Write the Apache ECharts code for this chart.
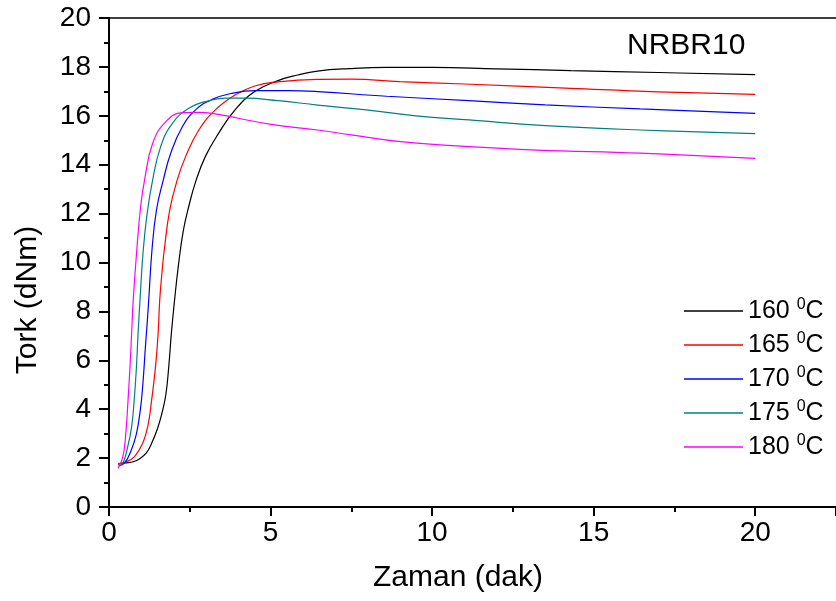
<!DOCTYPE html>
<html>
<head>
<meta charset="utf-8">
<script src="https://cdn.jsdelivr.net/npm/echarts@6/dist/echarts.min.js"></script>
<style>html,body{margin:0;padding:0;background:#fff;}#c{width:836px;height:601px;}</style>
</head>
<body>
<div id="c"></div>
<script>
const seriesNames = ['160', '165', '170', '175', '180'];
const xTicks = [0, 5, 10, 15, 20];
const yTicks = [0, 2, 4, 6, 8, 10, 12, 14, 16, 18, 20];

const x160 = [0.28, 0.5, 0.75, 0.95, 1.15, 1.3, 1.5, 1.65, 1.76, 1.85, 1.93, 2.03, 2.15, 2.3, 2.47, 2.68, 2.98, 3.39, 3.9, 4.51, 5.23, 5.84, 6.45, 7.43, 8.6, 10.0, 12.0, 14.3, 17.0, 20.0];
const y160 = [1.75, 1.8, 1.85, 1.97, 2.2, 2.55, 3.2, 3.9, 4.6, 5.74, 7.1, 8.47, 9.9, 11.3, 12.3, 13.3, 14.33, 15.28, 16.24, 16.99, 17.44, 17.67, 17.83, 17.93, 17.98, 17.98, 17.92, 17.85, 17.77, 17.68];

const x165 = [0.28, 0.53, 0.79, 1.04, 1.2, 1.32, 1.44, 1.52, 1.57, 1.64, 1.71, 1.88, 2.11, 2.37, 2.78, 3.29, 3.9, 4.51, 5.23, 6.45, 7.5, 9.0, 11.0, 14.3, 17.0, 20.0];
const y165 = [1.78, 1.85, 2.06, 2.6, 3.3, 4.38, 5.74, 7.1, 8.47, 9.6, 10.51, 12.15, 13.37, 14.33, 15.42, 16.24, 16.85, 17.22, 17.39, 17.49, 17.5, 17.4, 17.3, 17.12, 16.98, 16.88];

const x170 = [0.3, 0.48, 0.69, 0.85, 0.97, 1.05, 1.12, 1.18, 1.23, 1.33, 1.47, 1.68, 1.91, 2.27, 2.68, 3.19, 3.8, 4.51, 5.53, 6.45, 8.6, 11.14, 13.5, 16.44, 20.0];
const y170 = [1.7, 1.79, 2.33, 3.0, 3.97, 5.06, 6.42, 7.5, 8.47, 10.51, 12.15, 13.37, 14.47, 15.55, 16.24, 16.67, 16.92, 17.03, 17.03, 16.99, 16.8, 16.62, 16.45, 16.28, 16.1];

const x175 = [0.3, 0.43, 0.58, 0.7, 0.78, 0.85, 0.9, 0.96, 1.06, 1.18, 1.35, 1.6, 1.96, 2.47, 2.98, 3.6, 4.21, 5.23, 6.45, 7.96, 9.5, 11.14, 13.5, 16.44, 20.0];
const y175 = [1.68, 1.79, 2.47, 3.28, 4.38, 5.74, 7.1, 8.47, 10.51, 12.0, 13.37, 14.74, 15.69, 16.31, 16.58, 16.72, 16.72, 16.62, 16.44, 16.24, 16.0, 15.83, 15.6, 15.42, 15.27];

const x180 = [0.28, 0.43, 0.52, 0.59, 0.65, 0.7, 0.75, 0.86, 0.98, 1.1, 1.35, 1.76, 2.27, 2.78, 3.19, 4.0, 5.02, 6.45, 7.5, 9.02, 11.0, 13.25, 16.44, 20.0];
const y180 = [1.58, 2.06, 3.01, 4.38, 5.74, 7.1, 8.47, 10.51, 12.3, 13.37, 14.87, 15.76, 16.13, 16.14, 16.1, 15.9, 15.65, 15.42, 15.22, 14.94, 14.75, 14.6, 14.47, 14.26];

const colors = ['#000000', '#ff0000', '#0000ff', '#008080', '#ff00ff'];
const xs = [x160, x165, x170, x175, x180];
const ys = [y160, y165, y170, y175, y180];

const FONT = '"Liberation Sans", Arial, sans-serif';

const chart = echarts.init(document.getElementById('c'), null, {renderer: 'canvas'});

const series = seriesNames.map((name, i) => ({
  name: name,
  type: 'line',
  xAxisIndex: 0,
  yAxisIndex: 0,
  data: xs[i].map((v, j) => [v, ys[i][j]]),
  showSymbol: false,
  symbol: 'none',
  smooth: 0.45,
  lineStyle: {color: colors[i], width: 1.2},
  itemStyle: {color: colors[i]},
  animation: false
}));

chart.setOption({
  animation: false,
  backgroundColor: '#ffffff',
  grid: {left: 109, top: 18, width: 734, height: 489, containLabel: false},
  xAxis: [{
    type: 'value',
    min: 0,
    max: 22.5,
    interval: 5,
    position: 'bottom',
    axisLine: {show: true, onZero: false, lineStyle: {color: '#000', width: 2}},
    axisTick: {show: true, inside: false, length: 9, lineStyle: {color: '#000', width: 2}},
    minorTick: {show: true, splitNumber: 2, length: 5, lineStyle: {color: '#000', width: 2}},
    splitLine: {show: false},
    axisLabel: {
      color: '#000', fontFamily: FONT, fontSize: 28, margin: 12,
      showMaxLabel: false,
      formatter: v => (v <= 20 && xTicks.indexOf(v) >= 0 ? String(v) : '')
    }
  }, {
    type: 'value',
    min: 0,
    max: 22.5,
    position: 'top',
    axisLine: {show: true, onZero: false, lineStyle: {color: '#000', width: 1.5}},
    axisTick: {show: false},
    axisLabel: {show: false},
    splitLine: {show: false}
  }],
  yAxis: {
    type: 'value',
    min: 0,
    max: 20,
    interval: 2,
    axisLine: {show: true, onZero: false, lineStyle: {color: '#000', width: 2}},
    axisTick: {show: true, inside: false, length: 10, lineStyle: {color: '#000', width: 2}},
    minorTick: {show: true, splitNumber: 2, length: 5, lineStyle: {color: '#000', width: 2}},
    splitLine: {show: false},
    axisLabel: {
      color: '#000', fontFamily: FONT, fontSize: 28, margin: 18,
      formatter: v => (yTicks.indexOf(v) >= 0 ? String(v) : '')
    }
  },
  legend: {
    show: true,
    orient: 'vertical',
    left: 679,
    top: 292,
    icon: 'rect',
    itemWidth: 59,
    itemHeight: 1.5,
    itemGap: 7.5,
    selectedMode: false,
    data: seriesNames,
    formatter: n => '{n|' + n + ' }{s|0}{n|C}',
    textStyle: {
      color: '#000',
      fontFamily: FONT,
      fontSize: 25,
      rich: {
        n: {fontFamily: FONT, fontSize: 25, lineHeight: 28, color: '#000'},
        s: {fontFamily: FONT, fontSize: 16, lineHeight: 28, color: '#000', verticalAlign: 'top'}
      }
    }
  },
  graphic: [
    {type: 'text', left: 627, top: 31, style: {text: 'NRBR10', font: '30px "Liberation Sans", Arial, sans-serif', fill: '#000'}},
    {type: 'text', x: 458, y: 578, style: {text: 'Zaman (dak)', font: '30px "Liberation Sans", Arial, sans-serif', fill: '#000', textAlign: 'center', textVerticalAlign: 'middle'}},
    {type: 'text', x: 28, y: 300, rotation: Math.PI / 2, style: {text: 'Tork (dNm)', font: '30px "Liberation Sans", Arial, sans-serif', fill: '#000', textAlign: 'center', textVerticalAlign: 'middle'}}
  ],
  series: series
});
</script>
</body>
</html>
